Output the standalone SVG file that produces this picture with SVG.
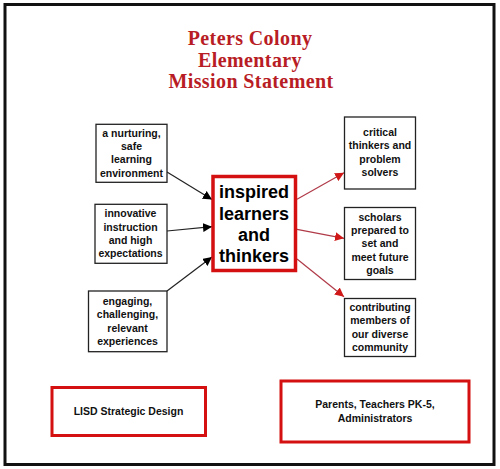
<svg xmlns="http://www.w3.org/2000/svg" width="500" height="469" viewBox="0 0 500 469">
<defs>
<marker id="ab" viewBox="0 0 10 10" refX="10" refY="5" markerWidth="9" markerHeight="9" markerUnits="userSpaceOnUse" orient="auto"><path d="M0,0 L10,5 L0,10 z" fill="#000"/></marker>
<marker id="ar" viewBox="0 0 10 10" refX="10" refY="5" markerWidth="9" markerHeight="9" markerUnits="userSpaceOnUse" orient="auto"><path d="M0,0 L10,5 L0,10 z" fill="#D01818"/></marker>
</defs>
<style>
.box{fill:#fff;stroke:#222;stroke-width:1.3}
.rbox{fill:#fff;stroke:#D41010;stroke-width:3}
.t{font-family:"Liberation Sans",Arial,sans-serif;font-weight:bold;font-size:10.5px;fill:#111;text-anchor:middle}
.big{font-family:"Liberation Sans",Arial,sans-serif;font-weight:bold;font-size:18px;fill:#000;text-anchor:middle}
.title{font-family:"Liberation Serif","Times New Roman",serif;font-weight:bold;font-size:20px;fill:#B81C24;text-anchor:middle;letter-spacing:0.4px}
.cb{stroke:#222;stroke-width:1.2;fill:none}
.cr{stroke:#B03A48;stroke-width:1.2;fill:none}
</style>
<rect x="0" y="0" width="500" height="469" fill="#fff"/>
<rect x="5" y="4.5" width="489" height="460" fill="#fff" stroke="#111" stroke-width="3"/>
<g id="title">
<text class="title" x="250" y="45">Peters Colony</text>
<text class="title" x="250" y="67">Elementary</text>
<text class="title" x="251" y="88">Mission Statement</text>
</g>
<g id="connectors">
<line class="cb" x1="167" y1="172" x2="212" y2="199.5" marker-end="url(#ab)"/>
<line class="cb" x1="167" y1="231" x2="212" y2="226.7" marker-end="url(#ab)"/>
<line class="cb" x1="167" y1="291" x2="212" y2="257" marker-end="url(#ab)"/>
<line class="cr" x1="297" y1="199.3" x2="344" y2="172.7" marker-end="url(#ar)"/>
<line class="cr" x1="297" y1="229.3" x2="344" y2="238.3" marker-end="url(#ar)"/>
<line class="cr" x1="297" y1="259" x2="344" y2="296.7" marker-end="url(#ar)"/>
</g>
<g id="n-nurturing">
<rect class="box" x="96" y="124.3" width="71" height="58"/>
<text class="t" x="131.5" y="136.7">a nurturing,</text>
<text class="t" x="131.5" y="150">safe</text>
<text class="t" x="131.5" y="163.3">learning</text>
<text class="t" x="131.5" y="176.7">environment</text>
</g>
<g id="n-innovative">
<rect class="box" x="95" y="204.3" width="72" height="59"/>
<text class="t" x="130.5" y="217.3">innovative</text>
<text class="t" x="130.5" y="230.7">instruction</text>
<text class="t" x="130.5" y="244">and high</text>
<text class="t" x="130.5" y="257.3">expectations</text>
</g>
<g id="n-engaging">
<rect class="box" x="88.5" y="291" width="78.5" height="60.7"/>
<text class="t" x="127.5" y="305">engaging,</text>
<text class="t" x="127.5" y="318.3">challenging,</text>
<text class="t" x="127.5" y="331.7">relevant</text>
<text class="t" x="127.5" y="345">experiences</text>
</g>
<g id="n-center">
<rect x="213" y="176.5" width="82.5" height="94" fill="#fff" stroke="#D41010" stroke-width="3.5"/>
<text class="big" x="254" y="198.3">inspired</text>
<text class="big" x="254" y="220">learners</text>
<text class="big" x="254" y="241">and</text>
<text class="big" x="254" y="261.7">thinkers</text>
</g>
<g id="n-critical">
<rect class="box" x="344.5" y="117" width="71" height="72"/>
<text class="t" x="380" y="136">critical</text>
<text class="t" x="380" y="149.3">thinkers and</text>
<text class="t" x="380" y="162.6">problem</text>
<text class="t" x="380" y="175.9">solvers</text>
</g>
<g id="n-scholars">
<rect class="box" x="344.5" y="207.5" width="71" height="72"/>
<text class="t" x="380" y="220.7">scholars</text>
<text class="t" x="380" y="234">prepared to</text>
<text class="t" x="380" y="247.3">set and</text>
<text class="t" x="380" y="260.6">meet future</text>
<text class="t" x="380" y="273.9">goals</text>
</g>
<g id="n-contributing">
<rect class="box" x="344.5" y="298.5" width="71" height="58"/>
<text class="t" x="380" y="311">contributing</text>
<text class="t" x="380" y="324.3">members of</text>
<text class="t" x="380" y="337.6">our diverse</text>
<text class="t" x="380" y="350.9">community</text>
</g>
<g id="n-lisd">
<rect class="rbox" x="52" y="387.5" width="153.5" height="48"/>
<text class="t" x="128.5" y="415">LISD Strategic Design</text>
</g>
<g id="n-parents">
<rect class="rbox" x="281" y="381" width="188" height="61"/>
<text class="t" x="375" y="408">Parents, Teachers PK-5,</text>
<text class="t" x="375" y="422">Administrators</text>
</g>
</svg>
